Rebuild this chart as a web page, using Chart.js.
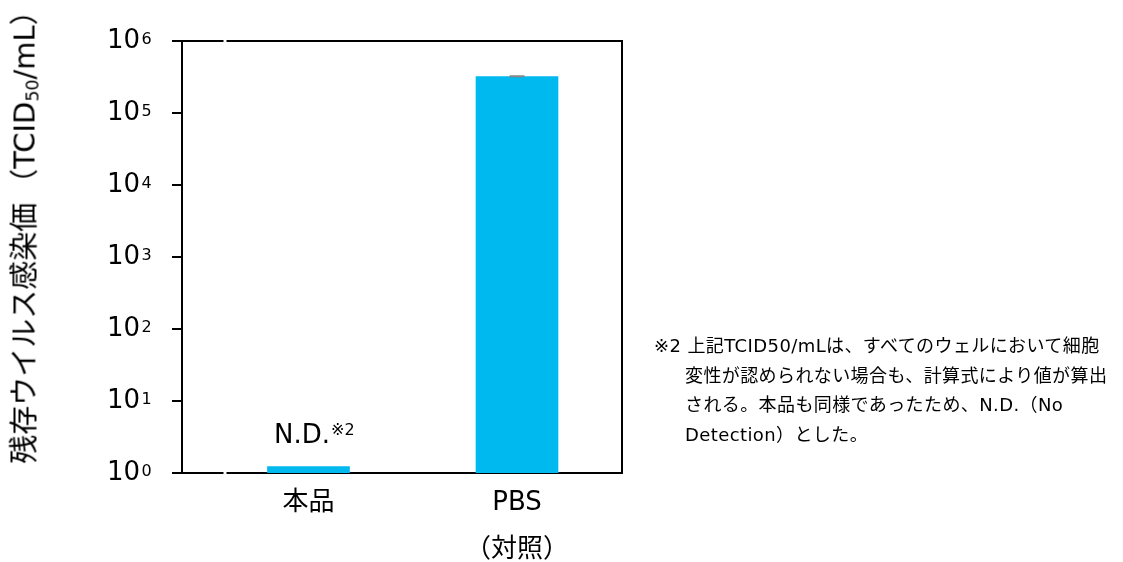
<!DOCTYPE html>
<html><head><meta charset="utf-8">
<script src="https://cdn.jsdelivr.net/npm/chart.js@4/dist/chart.umd.min.js"></script>
<style>
html,body{margin:0;padding:0;background:#fff;}
#wrap{position:relative;width:1123px;height:562px;overflow:hidden;background:#fff;}
#c{position:absolute;left:0;top:0;}
.ytitle{position:absolute;left:25px;top:230px;transform:translate(-50%,-50%) rotate(-90deg);white-space:nowrap;font-size:29px;font-family:"DejaVu Sans","Noto Sans CJK JP",sans-serif;color:#000;line-height:1;}
.ytitle sub{font-size:0.6em;vertical-align:-0.25em;line-height:0;}
.ytitle .gap{display:inline-block;width:5px;}
.note{position:absolute;left:654px;top:331px;font-size:18px;font-family:"DejaVu Sans","Noto Sans CJK JP",sans-serif;line-height:29.5px;color:#000;white-space:nowrap;letter-spacing:0.4px;}
.note .in{padding-left:31px;}
</style></head>
<body>
<div id="wrap">
<canvas id="c" width="1123" height="562"></canvas>
<div class="ytitle">残存ウイルス感染価<span class="gap"></span>（TCID<sub>50</sub>/mL）</div>
<div class="note">
<div>※2 上記TCID50/mLは、すべてのウェルにおいて細胞</div>
<div class="in">変性が認められない場合も、計算式により値が算出</div>
<div class="in">される。本品も同様であったため、N.D.（No</div>
<div class="in">Detection）とした。</div>
</div>
</div>
<script>
const categories = ['本品', ['PBS', '（対照）']];
const positions = [0, 1];
const values = [1.23, 320000];
const errors = [0, 3000];
const yTickValues = [1, 10, 100, 1000, 10000, 100000, 1000000];
const yTickBase = '10';
const yTickExponents = ['0', '1', '2', '3', '4', '5', '6'];
const ndText = 'N.D.';
const ndMark = '※2';

const FONT = '"DejaVu Sans", "Noto Sans CJK JP", sans-serif';
Chart.defaults.font.family = FONT;
Chart.defaults.color = '#000';

const framePlugin = {
  id: 'frame',
  afterDraw(chart) {
    const {ctx, chartArea: a} = chart;
    ctx.save();
    ctx.strokeStyle = '#000';
    ctx.lineWidth = 2;
    ctx.beginPath();
    ctx.moveTo(a.left, a.top);
    ctx.lineTo(a.right, a.top);
    ctx.lineTo(a.right, a.bottom);
    ctx.stroke();
    ctx.fillStyle = '#fff';
    ctx.fillRect(223.5, a.top - 3, 3, 6);
    ctx.fillRect(223.5, a.bottom - 3, 3, 6);
    const y = chart.scales.y;
    ctx.fillStyle = '#000';
    ctx.textAlign = 'left';
    ctx.textBaseline = 'alphabetic';
    ctx.font = '16px ' + FONT;
    yTickValues.forEach((v, i) => {
      const py = y.getPixelForValue(v);
      ctx.fillText(yTickExponents[i], 141.5, py + 2.5);
    });
    ctx.restore();
  },
  afterDatasetsDraw(chart) {
    const {ctx} = chart;
    const meta = chart.getDatasetMeta(0);
    const y = chart.scales.y;
    ctx.save();
    ctx.strokeStyle = '#888';
    ctx.lineWidth = 2;
    meta.data.forEach((el, i) => {
      if (!errors[i]) return;
      const yt = y.getPixelForValue(values[i] + errors[i]);
      const yv = y.getPixelForValue(values[i]);
      ctx.beginPath();
      ctx.moveTo(el.x - 7.5, yt); ctx.lineTo(el.x + 7.5, yt);
      ctx.moveTo(el.x, yt); ctx.lineTo(el.x, yv);
      ctx.stroke();
    });
    const el = meta.data[0];
    ctx.fillStyle = '#000';
    ctx.textBaseline = 'alphabetic';
    ctx.textAlign = 'left';
    ctx.font = '26px ' + FONT;
    const x0 = el.x - 34.5;
    ctx.fillText(ndText, x0, 443);
    const w = ctx.measureText(ndText).width;
    ctx.font = '16px ' + FONT;
    ctx.fillText(ndMark, x0 + w + 1, 435);
    ctx.restore();
  }
};

new Chart(document.getElementById('c'), {
  type: 'bar',
  data: {
    datasets: [{
      data: values.map((v, i) => ({x: positions[i], y: v})),
      backgroundColor: '#00B9EF',
      borderWidth: 0,
      barThickness: 82
    }]
  },
  options: {
    responsive: false,
    animation: false,
    devicePixelRatio: 1,
    layout: {padding: {top: 41, right: 501, left: 0, bottom: 0}},
    plugins: {legend: {display: false}, tooltip: {enabled: false}},
    scales: {
      x: {
        type: 'linear',
        min: -0.6067,
        max: 1.5036,
        offset: false,
        bounds: 'data',
        z: 1,
        afterBuildTicks: s => { s.ticks = positions.map(p => ({value: p})); },
        afterFit: s => { s.height = 89; s.paddingLeft = 0; s.paddingRight = 0; },
        grid: {display: true, drawOnChartArea: false, drawTicks: false, offset: false},
        border: {display: true, color: '#000', width: 2},
        ticks: {
          autoSkip: false,
          maxRotation: 0,
          padding: 7,
          color: '#000',
          font: {size: 26, lineHeight: 1.8},
          callback: v => { const i = positions.indexOf(v); return i >= 0 ? categories[i] : ''; }
        }
      },
      y: {
        type: 'logarithmic',
        min: 1,
        max: 1000000,
        afterBuildTicks: s => { s.ticks = yTickValues.map(v => ({value: v})); },
        afterFit: s => { s.width = 182; s.paddingTop = 0; s.paddingBottom = 0; },
        grid: {display: true, drawOnChartArea: false, drawTicks: true, tickLength: 10, color: '#000', lineWidth: 2},
        border: {display: true, color: '#000', width: 2},
        ticks: {
          autoSkip: false,
          padding: 32,
          color: '#000',
          font: {size: 26},
          callback: v => yTickBase
        }
      }
    }
  },
  plugins: [framePlugin]
});
</script>
</body></html>
